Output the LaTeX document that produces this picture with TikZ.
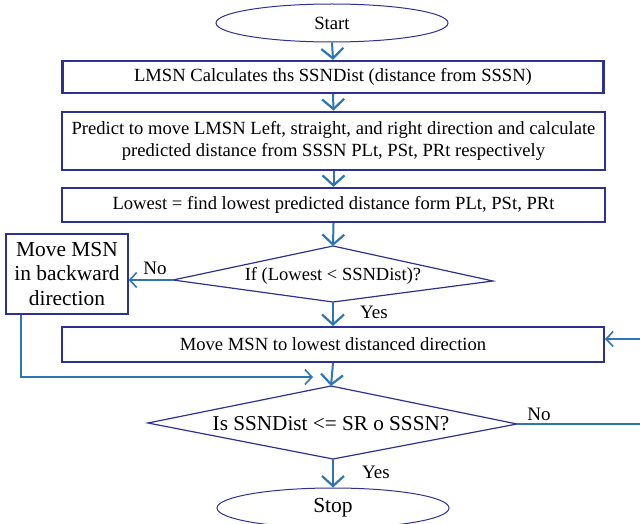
\documentclass[tikz,border=0pt]{standalone}
\usepackage{fontspec}
\setmainfont{Liberation Serif}
\usetikzlibrary{arrows.meta,shapes.geometric}
\definecolor{navy}{RGB}{46,49,146}
\definecolor{flowblue}{RGB}{46,117,182}
\tikzset{
  procbox/.style={draw=navy,line width=2.2pt,fill=white,minimum height=#1,inner sep=0pt},
  termnode/.style={draw=navy,line width=1pt,ellipse,minimum width=232pt,minimum height=38pt,inner sep=0pt},
  flow/.style={draw=flowblue,line width=2pt,-{Straight Barb[length=10pt,width=22pt,line width=2.2pt]}},
  flowline/.style={draw=flowblue,line width=1.3pt},
  thinflow/.style={draw=flowblue,line width=1.3pt,-{Straight Barb[length=7pt,width=15pt,line width=1.6pt]}},
  dia/.style={draw=navy,line width=1.2pt},
  lbl/.style={font=\fontsize{19}{21}\selectfont,inner sep=0pt}
}
\begin{document}
\begin{tikzpicture}[x=1pt,y=-1pt]
\useasboundingbox (0,0) rectangle (640,524);
\begin{scope}
\clip (0,0) rectangle (640,524);
% Start
\node[termnode,font=\fontsize{18.7}{21}\selectfont] (start) at (332,23) {Start};
% box1
\node[procbox=32pt,minimum width=541pt,font=\fontsize{18.6}{21}\selectfont] (b1) at (333,77) {LMSN Calculates ths SSNDist (distance from SSSN)};
% box2
\node[procbox=58pt,minimum width=543pt,line width=2.8pt,align=center,font=\fontsize{18.6}{22}\selectfont] (b2) at (333.5,141) {Predict to move LMSN Left, straight, and right direction and calculate\\predicted distance from SSSN PLt, PSt, PRt respectively};
% box3
\node[procbox=34pt,minimum width=543pt,font=\fontsize{18.6}{21}\selectfont] (b3) at (333.5,205) {Lowest = find lowest predicted distance form PLt, PSt, PRt};
% diamond 1
\coordinate (d1t) at (333,246);
\coordinate (d1l) at (173,280);
\coordinate (d1r) at (493,281);
\coordinate (d1b) at (333,302);
\draw[dia] (d1t) -- (d1r) -- (d1b) -- (d1l) -- cycle;
\node[font=\fontsize{18.5}{21}\selectfont,inner sep=0pt] (d1) at (333,276) {If (Lowest < SSNDist)?};
% backward box
\node[draw=navy,line width=1.2pt,minimum width=122pt,minimum height=80pt,inner sep=0pt,align=center,font=\fontsize{21.4}{24.5}\selectfont] (back) at (67,274) {Move MSN\\in backward\\direction};
% box4
\node[procbox=35pt,minimum width=542pt,line width=2pt,font=\fontsize{18.6}{21}\selectfont] (b4) at (333,344.5) {Move MSN to lowest distanced direction};
% diamond 2
\coordinate (d2t) at (331,386);
\coordinate (d2l) at (148,423);
\coordinate (d2r) at (517,424);
\coordinate (d2b) at (333,459);
\draw[dia] (d2t) -- (d2r) -- (d2b) -- (d2l) -- cycle;
\node[font=\fontsize{21.2}{24}\selectfont,inner sep=0pt] (d2) at (331,424) {Is SSNDist <= SR o SSSN?};
% Stop
\node[termnode,minimum height=40pt,font=\fontsize{21.5}{24}\selectfont] (stop) at (333,508) {Stop};
% arrows
\draw[flow] (start.south) -- (b1.north);
\draw[flow] (b1.south) -- (b2.north);
\draw[flow] (b2.south) -- (b3.north);
\draw[flow] (b3.south) -- (d1t);
\draw[flow] (d1b) -- (b4.north -| d1b);
\draw[flow] (b4.south) -- (d2t);
\draw[flow] (d2b) -- (stop.north);
\draw[thinflow] (d1l) -- (back.east |- d1l);
\coordinate (lk) at (21,377);
\coordinate (lkend) at (313,377);
\draw[thinflow] (back.south -| lk) -- (lk) -- (lkend);
\coordinate (nr) at (640,424);
\draw[flowline] (d2r) -- (nr);
\coordinate (inr) at (640,339);
\draw[thinflow] (inr) -- (b4.east |- inr);
% labels
\node[lbl] (no1) at (155,268) {No};
\node[lbl] (yes1) at (374,312) {Yes};
\node[lbl] (no2) at (539,414) {No};
\node[lbl] (yes2) at (376,472) {Yes};
\end{scope}
\end{tikzpicture}
\end{document}
